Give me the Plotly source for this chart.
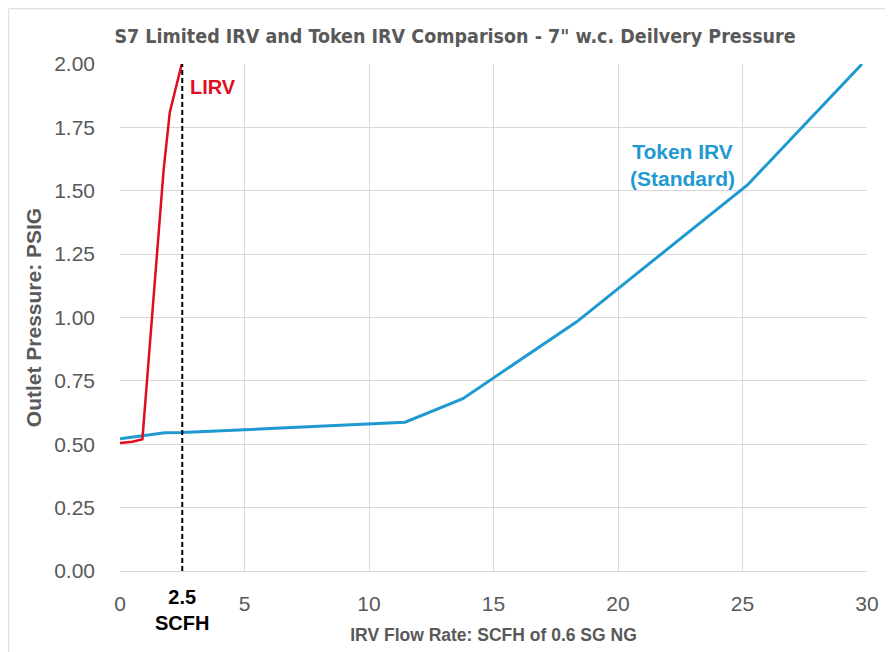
import plotly.graph_objects as go

# Data
lirv_flow = [0.0, 0.5, 0.9, 1.75, 2.0, 2.48]
lirv_pressure = [0.505, 0.51, 0.52, 1.58, 1.81, 2.0]

token_flow = [0.0, 1.8, 2.5, 11.45, 13.77, 18.34, 25.2, 29.8]
token_pressure = [0.522, 0.545, 0.546, 0.587, 0.68, 0.983, 1.523, 2.0]

ref_flow = 2.5
ref_label = "2.5<br>SCFH"

x_ticks = [0, 5, 10, 15, 20, 25, 30]
y_ticks = [0.0, 0.25, 0.5, 0.75, 1.0, 1.25, 1.5, 1.75, 2.0]

RED = "#DE0D1F"
BLUE = "#1F9AD0"
GRAY = "#595959"
GRID = "#D9D9D9"

fig = go.Figure()

fig.add_trace(go.Scatter(
    x=token_flow, y=token_pressure, mode="lines",
    line=dict(color=BLUE, width=3), name="Token IRV", showlegend=False,
))
fig.add_trace(go.Scatter(
    x=lirv_flow, y=lirv_pressure, mode="lines",
    line=dict(color=RED, width=2.5), name="LIRV", showlegend=False,
))
fig.add_trace(go.Scatter(
    x=[ref_flow, ref_flow], y=[y_ticks[0], y_ticks[-1]], mode="lines",
    line=dict(color="black", width=2, dash="5px,3px"), showlegend=False,
))

fig.update_layout(
    width=893, height=652,
    margin=dict(l=112, r=34, t=56, b=89, autoexpand=False),
    paper_bgcolor="white", plot_bgcolor="white",
    title=dict(
        text="<b>S7 Limited IRV and Token IRV Comparison - 7\" w.c. Deilvery Pressure</b>",
        x=0.5006, xanchor="center", y=0.957, yanchor="middle",
        font=dict(family="DejaVu Sans Condensed, Liberation Sans Narrow, Arial Narrow, sans-serif", size=19.5, color=GRAY),
    ),
    font=dict(family="Liberation Sans, Arial, sans-serif", color=GRAY),
    xaxis=dict(
        range=[0, 30], tickvals=x_ticks, ticktext=[str(v) for v in x_ticks],
        showgrid=True, gridcolor=GRID, gridwidth=1,
        showline=True, linecolor=GRID, linewidth=1,
        zeroline=False, ticks="", tickfont=dict(size=21, color=GRAY),
        ticklabelstandoff=14,
        title=dict(text="<b>IRV Flow Rate: SCFH of 0.6 SG NG</b>", font=dict(size=17.5, color=GRAY), standoff=14),
    ),
    yaxis=dict(
        range=[0, 2.0], tickvals=y_ticks, ticktext=[f"{v:.2f}" for v in y_ticks],
        showgrid=True, gridcolor=GRID, gridwidth=1,
        showline=False, zeroline=False, ticks="",
        tickfont=dict(size=21, color=GRAY), ticklabelstandoff=24,
        title=dict(text="<b>Outlet Pressure: PSIG</b>", font=dict(size=21, color=GRAY), standoff=6),
    ),
    shapes=[dict(
        type="rect", xref="paper", yref="paper",
        x0=-0.149, x1=1.2, y0=-0.3, y1=1.109,
        line=dict(color="#D9D9D9", width=1), fillcolor="rgba(0,0,0,0)", layer="below",
    )],
    annotations=[
        dict(x=lirv_flow[-1], y=lirv_pressure[-1], xref="x", yref="y", text="<b>LIRV</b>",
             showarrow=False, xanchor="left", yanchor="top", xshift=6, yshift=-10,
             font=dict(size=20, color=RED, family="Liberation Sans, Arial, sans-serif")),
        dict(x=22.6, y=1.60, xref="x", yref="y", text="<b>Token IRV<br>(Standard)</b>",
             showarrow=False, xanchor="center", yanchor="middle",
             font=dict(size=21, color=BLUE, family="Liberation Sans, Arial, sans-serif")),
        dict(x=ref_flow, y=0, xref="x", yref="paper", text="<b>" + ref_label + "</b>",
             showarrow=False, xanchor="center", yanchor="top", yshift=-13,
             font=dict(size=20, color="black", family="Liberation Sans, Arial, sans-serif")),
    ],
)

fig.write_html("out.html")
